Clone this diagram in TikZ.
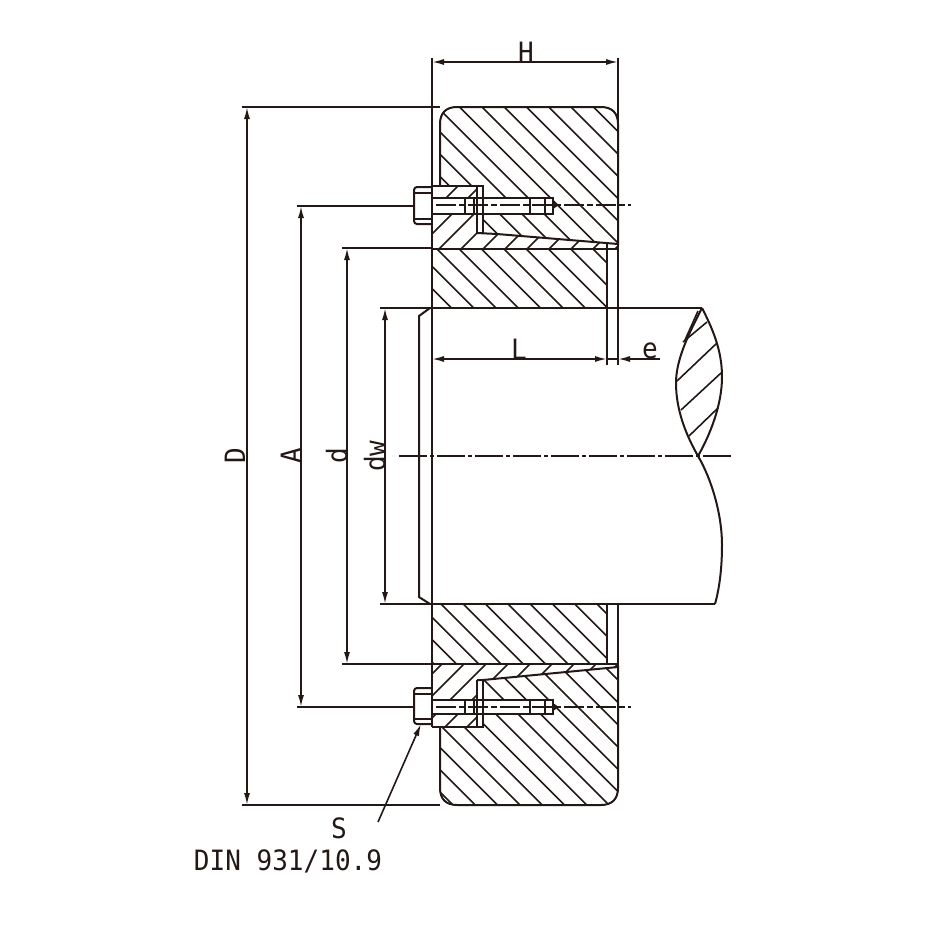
\documentclass[tikz,border=0pt]{standalone}
\usepackage{fontspec}
\usepackage{xcolor}
\usetikzlibrary{arrows.meta}
\newfontfamily\cadfont[FakeStretch=0.93]{DejaVu Sans Mono}
\definecolor{inkblack}{RGB}{35,24,21}

\begin{document}
\begin{tikzpicture}[
        x=1pt, y=-1pt, % reference pixels, y pointing down
        >={Latex[length=12pt,width=6pt]},
        partline/.style={draw=inkblack, line width=2pt},
        hatchline/.style={draw=inkblack, line width=1.6pt},
        dimline/.style={draw=inkblack, line width=1.6pt},
        centerline/.style={draw=inkblack, line width=1.7pt, dash pattern=on 28pt off 3pt on 4pt off 3pt},
        boltaxis/.style={draw=inkblack, line width=1.5pt, dash pattern=on 20pt off 3pt on 6pt off 3pt},
        dimlabel/.style={font=\cadfont\fontsize{28}{28}\selectfont, text=inkblack, inner sep=0pt, anchor=base}
      ]
        \useasboundingbox (0,0) rectangle (930,930);

        % Dimension anchors
        \coordinate (H_left) at (432,62);
        \coordinate (H_right) at (618,62);
        \coordinate (D_top) at (247,107);
        \coordinate (D_bottom) at (247,805);
        \coordinate (A_top) at (301,206);
        \coordinate (A_bottom) at (301,707);
        \coordinate (d_top) at (347,248);
        \coordinate (d_bottom) at (347,664);
        \coordinate (dw_top) at (385,308);
        \coordinate (dw_bottom) at (385,604);
        \coordinate (L_left) at (432,359);
        \coordinate (L_right) at (607,359);
        \coordinate (e_right) at (618,359);
        \coordinate (e_tail) at (660,359);
        \coordinate (leader_start) at (378,822);
        \coordinate (leader_end) at (421,724);

        % Hatching of the outer ring, top
        \begin{scope}
          \clip (440,186) -- (440,124) .. controls (440,113) and (446,107) .. (457,107) -- (601,107) .. controls (612,107) and (618,113) .. (618,124) -- (618,244) -- (497,234) -- (483,233) -- (483,186) -- cycle;
          \foreach \k [evaluate=\k as \c using 308+22.3*\k] in {-3,...,8}
            \draw[hatchline] ({\c+80},80) -- ({\c+260},260);
        \end{scope}

        % Hatching of the outer ring, bottom
        \begin{scope}
          \clip (440,727) -- (440,788) .. controls (440,799) and (446,805) .. (457,805) -- (601,805) .. controls (612,805) and (618,799) .. (618,788) -- (618,667) -- (483,680) -- (483,727) -- cycle;
          \foreach \k [evaluate=\k as \c using -352+22.3*\k] in {0,...,14}
            \draw[hatchline] ({\c+650},650) -- ({\c+830},830);
        \end{scope}

        % Hatching of the sleeve
        \begin{scope}
          \clip (432,249) rectangle (607,308);
          \foreach \k [evaluate=\k as \c using 188+22.3*\k] in {-3,...,8}
            \draw[hatchline] ({\c+240},240) -- ({\c+320},320);
        \end{scope}
        \begin{scope}
          \clip (432,604) rectangle (607,664);
          \foreach \k [evaluate=\k as \c using -163+22.3*\k] in {-3,...,8}
            \draw[hatchline] ({\c+600},600) -- ({\c+670},670);
        \end{scope}

        % Hatching of flange and wedge
        \begin{scope}
          \clip (432,186) -- (477,186) -- (477,233) -- (497,234) -- (618,244) -- (618,249) -- (432,249) -- cycle;
          \foreach \k [evaluate=\k as \c using 644+22*\k] in {0,...,10}
            \draw[hatchline] ({\c-260},260) -- ({\c-180},180);
        \end{scope}
        \begin{scope}
          \clip (432,664) -- (618,664) -- (618,667) -- (483,680) -- (477,680) -- (477,727) -- (432,727) -- cycle;
          \foreach \k [evaluate=\k as \c using 1106+22*\k] in {0,...,8}
            \draw[hatchline] ({\c-735},735) -- ({\c-655},655);
        \end{scope}

        % Bolts, blanked over the hatching
        \fill[white] (432,198) rectangle (553,214);
        \fill[white] (432,700) rectangle (553,714);
        \foreach \by/\ty/\ly in {198/214/205, 700/714/707} {
          \draw[partline] (432,\by) -- (553,\by) -- (553,\ty) -- (432,\ty);
          \foreach \tx in {465,474,530,545}
            \draw[hatchline] (\tx,\by) -- (\tx,\ty);
          \fill[inkblack] (553,\ly-4) -- (559,\ly) -- (553,\ly+4) -- cycle;
          \draw[boltaxis] (436,\ly) -- (631,\ly);
        }
        % Bolt heads
        \draw[partline, rounded corners=3pt] (432,187) -- (414,187) -- (414,224) -- (432,224);
        \draw[hatchline] (415,193) -- (432,193) (415,219) -- (432,219);
        \draw[partline, rounded corners=3pt] (432,688) -- (414,688) -- (414,724) -- (432,724);
        \draw[hatchline] (415,694) -- (432,694) (415,719) -- (432,719);

        % Outer ring
        \draw[partline] (440,186) -- (440,124) .. controls (440,113) and (446,107) .. (457,107) -- (601,107) .. controls (612,107) and (618,113) .. (618,124) -- (618,244) -- (497,234) -- (477,233);
        \draw[partline] (440,727) -- (440,788) .. controls (440,799) and (446,805) .. (457,805) -- (601,805) .. controls (612,805) and (618,799) .. (618,788) -- (618,667) -- (483,680) -- (477,680);

        % Flanges
        \draw[partline] (432,186) -- (483,186) -- (483,233) (477,186) -- (477,233);
        \draw[partline] (432,727) -- (483,727) -- (483,680) (477,680) -- (477,727);

        % Sleeve, hub face and gap
        \draw[partline] (432,58) -- (432,727);
        \draw[partline] (432,249) -- (618,249) (432,664) -- (618,664);
        \draw[partline] (607,244) -- (607,365) (607,604) -- (607,664);
        \draw[partline] (618,58) -- (618,124) (618,244) -- (618,365) (618,604) -- (618,667);

        % Shaft
        \draw[partline] (380,308) -- (702,308);
        \draw[partline] (380,604) -- (715,604);
        \draw[partline] (430,308) -- (419,316) -- (419,597) -- (430,604);
        \draw[partline] (702,308) .. controls (716,335) and (722,355) .. (722,377) .. controls (722,405) and (710,435) .. (698,456) .. controls (712,480) and (722,515) .. (722,545) .. controls (722,570) and (719,590) .. (715,604);
        \draw[partline] (702,308) .. controls (688,335) and (676,360) .. (676,383) .. controls (676,410) and (686,435) .. (698,456);
        % Hatching of the shaft break
        \draw[hatchline] (685,340) -- (698,311) (683,342) -- (707,322) (677,381) -- (717,343) (681,410) -- (721,373) (689,436) -- (718,408);
        \draw[centerline] (399,456) -- (731,456);

        % Extension lines
        \draw[dimline] (242,107) -- (440,107) (242,805) -- (440,805);
        \draw[dimline] (297,206) -- (414,206) (297,707) -- (414,707);
        \draw[dimline] (342,248) -- (432,248) (342,664) -- (432,664);

        % Dimension lines
        \draw[dimline, <->] (H_left) -- (H_right);
        \draw[dimline, <->] (D_top) -- (D_bottom);
        \draw[dimline, <->] (A_top) -- (A_bottom);
        \draw[dimline, <->] (d_top) -- (d_bottom);
        \draw[dimline, <->] (dw_top) -- (dw_bottom);
        \draw[dimline, <->] (L_left) -- (L_right);
        \draw[dimline, <-] (e_right) -- (e_tail);
        \draw[dimline] (L_right) -- (e_right);
        \draw[dimline, ->] (leader_start) -- (leader_end);

        % Labels
        \node[dimlabel] (label_H) at (526,62) {H};
        \node[dimlabel] (label_L) at (519,359) {L};
        \node[dimlabel] (label_e) at (650,358) {e};
        \node[dimlabel, rotate=90] (label_D) at (245,456) {D};
        \node[dimlabel, rotate=90] (label_A) at (301,456) {A};
        \node[dimlabel, rotate=90] (label_d) at (347,456) {d};
        \node[dimlabel, rotate=90] (label_dw) at (385,456) {dw};
        \node[dimlabel] (label_S) at (339,838) {S};
        \node[dimlabel] (label_din) at (288,870) {DIN 931/10.9};
    \end{tikzpicture}
\end{document}
